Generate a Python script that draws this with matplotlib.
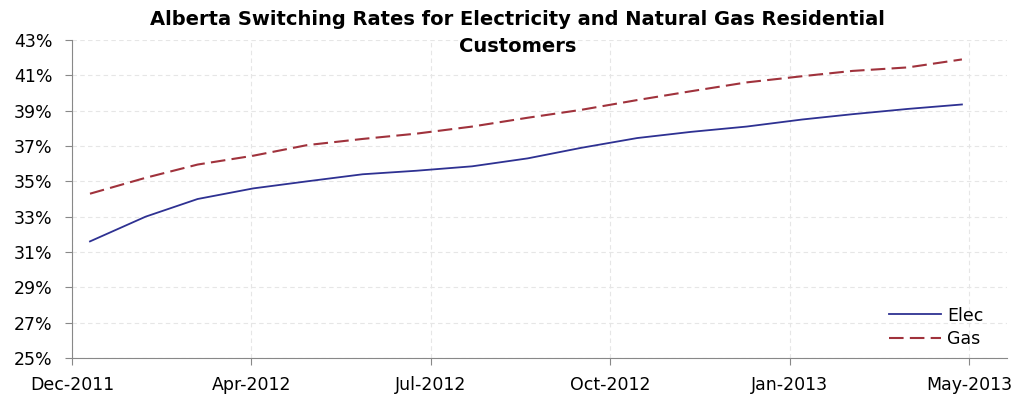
import matplotlib
matplotlib.use("Agg")
import matplotlib.pyplot as plt
from matplotlib.ticker import FuncFormatter
import pandas as pd

# monthly readings, end of month
dates = pd.date_range("2011-12-31", "2013-04-30", freq="ME")
elec = [31.6, 33.0, 34.0, 34.6, 35.0, 35.4, 35.6, 35.85, 36.3, 36.9,
        37.45, 37.8, 38.1, 38.5, 38.8, 39.1, 39.35]
gas = [34.3, 35.2, 35.95, 36.45, 37.05, 37.4, 37.7, 38.1, 38.6, 39.05,
       39.6, 40.1, 40.6, 40.95, 41.25, 41.45, 41.9]

# axis ticks (Excel style, 100 day major unit)
tick_dates = pd.date_range("2011-12-21", periods=6, freq="100D")
tick_labels = ["Dec-2011", "Apr-2012", "Jul-2012", "Oct-2012", "Jan-2013", "May-2013"]

plt.rcParams["font.family"] = "DejaVu Sans"

fig = plt.figure(figsize=(10.19, 4.0), dpi=100)
ax = fig.add_axes([0.0707, 0.105, 0.988 - 0.0707, 0.795])

ax.plot(dates, elec, color="#2E3192", lw=1.3, label="Elec")
ax.plot(dates, gas, color="#A0323C", lw=1.5, dashes=(7, 3), label="Gas")

ax.set_ylim(25, 43)
ax.set_yticks(range(25, 44, 2))
ax.yaxis.set_major_formatter(FuncFormatter(lambda v, p: f"{v:.0f}%"))

ax.set_xlim(tick_dates[0], pd.Timestamp("2013-05-25"))
ax.set_xticks(tick_dates)
ax.set_xticklabels(tick_labels)

for s in ["top", "right"]:
    ax.spines[s].set_visible(False)
for s in ["left", "bottom"]:
    ax.spines[s].set_color("#888888")
ax.tick_params(axis="both", colors="#888888", labelcolor="black", labelsize=12.5, length=5)
ax.tick_params(axis="x", pad=8)
ax.tick_params(axis="y", pad=9)

ax.grid(True, color="#e6e6e6", linestyle=(0, (4, 3)), lw=0.8)
ax.set_axisbelow(True)

ax.legend(loc="lower right", bbox_to_anchor=(0.988, -0.006), frameon=False,
          fontsize=12.5, handlelength=3.0, handletextpad=0.35, labelspacing=0.3,
          borderaxespad=0.3)

fig.text(0.508, 0.975, "Alberta Switching Rates for Electricity and Natural Gas Residential\nCustomers",
         ha="center", va="top", fontsize=14, fontweight="bold", linespacing=1.55)

fig.savefig("out.png", dpi=100)
